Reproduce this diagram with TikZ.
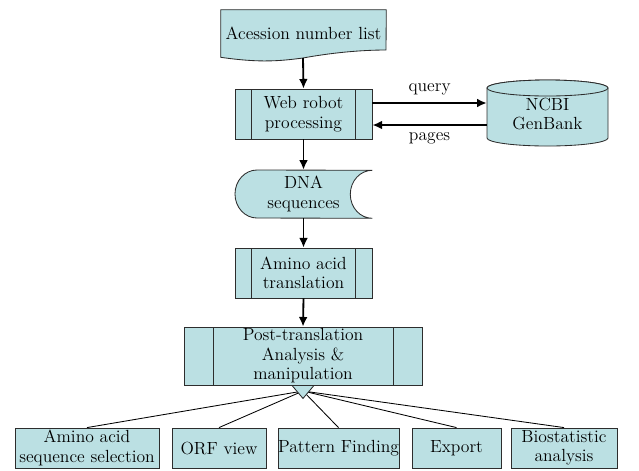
\documentclass[tikz,border=0pt]{standalone}
\usepackage{tikz}
\usetikzlibrary{arrows.meta,positioning,backgrounds}

\definecolor{boxfill}{RGB}{187,224,227}
\definecolor{boxline}{RGB}{45,45,45}

\begin{document}
\begin{tikzpicture}[
    x=0.025cm, y=-0.025cm,
    font=\fontsize{12.5}{13.8}\selectfont,
    every node/.style={align=center, inner sep=0pt},
    outline/.style={draw=boxline, line width=0.6pt, fill=boxfill},
    plainbox/.style={outline, rectangle, minimum width=#1, minimum height=1cm},
    process/.style={outline, rectangle, minimum width=3.425cm, minimum height=1.25cm,
        path picture={
            \draw[boxline, line width=0.6pt]
                ([xshift=#1]path picture bounding box.north west) -- ([xshift=#1]path picture bounding box.south west)
                ([xshift=-#1]path picture bounding box.north east) -- ([xshift=-#1]path picture bounding box.south east);
        }},
    process/.default=0.41cm,
    holder/.style={rectangle, minimum width=#1},
    arr/.style={-{Latex[length=2.4mm,width=2.2mm]}, line width=1.3pt},
    branch/.style={line width=0.6pt}
]
\useasboundingbox (0,0) rectangle (639,470);

% Input list (document shape)
\node[holder=4.125cm, minimum height=1.175cm] (acc) at (303.5,33.5) {Acession number list};
\coordinate (accend) at (303,58);

% Fetching from GenBank
\node[process] (web) at (303.5,114) {Web robot\\processing};
\node[holder=3.025cm, minimum height=1.25cm] (ncbi) at (547.5,114) {NCBI\\GenBank};

% Stored sequences
\node[holder=3.425cm, minimum height=1.2cm] (dna) at (303.5,194) {DNA\\sequences};

\node[process] (amino) at (303.5,273) {Amino acid\\translation};
\node[process=0.725cm, minimum width=5.95cm, minimum height=1.45cm] (post) at (303,356)
    {Post-translation\\Analysis \&\\manipulation};

% Output modules
\node[plainbox=3.6cm] (sel) at (87,448) {Amino acid\\sequence selection};
\node[plainbox=2.35cm] (orf) at (219,448) {ORF view};
\node[plainbox=3.025cm] (pat) at (338.5,448) {Pattern Finding};
\node[plainbox=2.225cm] (exp) at (456.5,448) {Export};
\node[plainbox=2.65cm] (bio) at (564,448) {Biostatistic\\analysis};

% Shapes behind the text
\begin{pgfonlayer}{background}
    \filldraw[outline] (acc.north west) -- (acc.north east) -- (386,50)
        .. controls (360,50) and (330,53) .. (303,58)
        .. controls (280,61) and (260,63) .. (acc.south west) -- cycle;
    \filldraw[outline] (257,170) arc[start angle=90, end angle=270, x radius=0.55cm, y radius=0.6cm]
        -- (dna.south east) arc[start angle=270, end angle=90, x radius=0.55cm, y radius=0.6cm]
        -- cycle;
    \filldraw[outline] (547.5,88) ++(-60.5,0) -- (487,138)
        arc[start angle=180, end angle=360, x radius=1.5125cm, y radius=0.2cm]
        -- (608,88) arc[start angle=0, end angle=180, x radius=1.5125cm, y radius=0.2cm];
    \filldraw[outline] (547.5,88) ellipse[x radius=1.5125cm, y radius=0.2cm];
\end{pgfonlayer}

% Main flow
\draw[arr] (accend) -- (web.north);
\draw[arr] ([yshift=0.275cm]web.east) -- ([yshift=0.275cm]web.east -| ncbi.west)
    node[midway, above=5pt] {query};
\draw[arr] ([yshift=-0.275cm]web.east -| ncbi.west) -- ([yshift=-0.275cm]web.east)
    node[midway, below=5pt] {pages};
\draw[arr] (web.south) -- (dna.north);
\draw[arr] (dna.south) -- (amino.north);
\draw[arr] (amino.south) -- (post.north);

% Branches to the modules
\coordinate (hub) at (303,391);
\foreach \m in {sel,orf,pat,exp,bio}
    \draw[branch] (hub) -- (\m.north);
\filldraw[outline] ([xshift=-0.275cm]post.south) -- ([xshift=0.275cm]post.south)
    -- ([yshift=-0.325cm]post.south) -- cycle;

\end{tikzpicture}
\end{document}
